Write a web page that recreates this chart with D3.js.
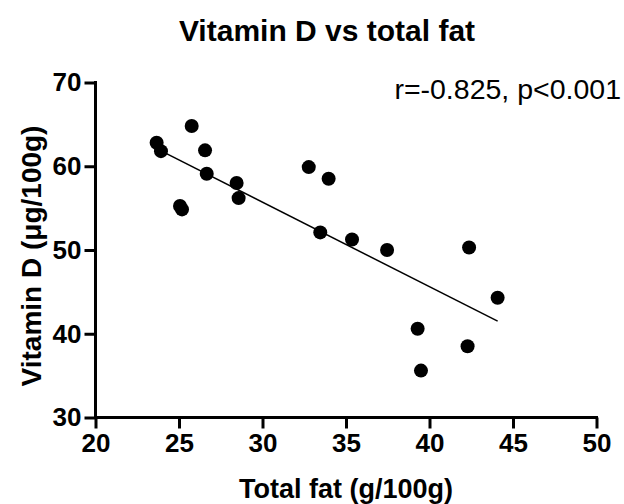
<!DOCTYPE html>
<html>
<head>
<meta charset="utf-8">
<script src="https://cdn.jsdelivr.net/npm/d3@7"></script>
<style>
  body { margin: 0; background: #fff; }
  svg { font-family: "Liberation Sans", Arial, sans-serif; }
</style>
</head>
<body>
<svg class="chart" width="624" height="504"></svg>
<script>
// total fat (g/100g) and vitamin D (ug/100g)
const fat = [23.66, 23.92, 25.76, 26.56, 26.66, 25.06, 25.18, 28.45, 28.57, 32.77,
             33.96, 33.46, 35.36, 37.46, 42.37, 44.08, 39.29, 42.28, 39.49];
const vitD = [62.8, 61.8, 64.8, 61.9, 59.1, 55.25, 54.85, 58.0, 56.2, 59.9,
              58.5, 52.1, 51.25, 50.0, 50.3, 44.3, 40.6, 38.5, 35.6];
const fitX = [23.66, 44.08];
const fitY = [62.1, 41.5];
const xTicks = [20, 25, 30, 35, 40, 45, 50];
const yTicks = [30, 40, 50, 60, 70];

const svg = d3.select('.chart');

const x = d3.scaleLinear().domain([20, 50]).range([95.5, 596.5]);
const y = d3.scaleLinear().domain([30, 70]).range([417.5, 82.5]);

// title
svg.append('text')
  .attr('x', 327).attr('y', 41)
  .attr('text-anchor', 'middle')
  .style('font-size', '30px').style('font-weight', 'bold')
  .text('Vitamin D vs total fat');

// axes
const xAxis = svg.append('g')
  .attr('transform', `translate(0,${y(30)})`)
  .call(d3.axisBottom(x).tickValues(xTicks).tickSize(11).tickSizeOuter(0).tickPadding(5));
const yAxis = svg.append('g')
  .attr('transform', `translate(${x(20)},0)`)
  .call(d3.axisLeft(y).tickValues(yTicks).tickSize(11).tickSizeOuter(0).tickPadding(3));

[xAxis, yAxis].forEach(a => {
  a.select('.domain').attr('stroke', '#000').attr('stroke-width', 3);
  a.selectAll('.tick line').attr('stroke', '#000').attr('stroke-width', 3);
  a.selectAll('.tick text')
    .attr('fill', '#000')
    .style('font-size', '26px').style('font-weight', 'bold')
    .style('font-family', '"Liberation Sans", Arial, sans-serif');
});
// extend domains so the corner closes
xAxis.select('.domain').attr('d', `M${x(20) - 1.5},0H${x(50) + 1.5}`);
yAxis.select('.domain').attr('d', `M0,${y(70) - 1.5}V${y(30) + 1.5}`);

// axis titles
svg.append('text')
  .attr('x', 346).attr('y', 498)
  .attr('text-anchor', 'middle')
  .style('font-size', '27px').style('font-weight', 'bold')
  .text('Total fat (g/100g)');

svg.append('text')
  .attr('transform', `translate(41,${y(50) + 6}) rotate(-90)`)
  .attr('text-anchor', 'middle')
  .style('font-size', '28px').style('font-weight', 'bold')
  .text('Vitamin D (μg/100g)');

// regression line
svg.append('line')
  .attr('x1', x(fitX[0])).attr('y1', y(fitY[0]))
  .attr('x2', x(fitX[1])).attr('y2', y(fitY[1]))
  .attr('stroke', '#000').attr('stroke-width', 1.5);

// points
svg.append('g').selectAll('circle')
  .data(fat.map((f, i) => [f, vitD[i]]))
  .join('circle')
  .attr('cx', d => x(d[0]))
  .attr('cy', d => y(d[1]))
  .attr('r', 7)
  .attr('fill', '#000');

// annotation
svg.append('text')
  .attr('x', 621).attr('y', 99)
  .attr('text-anchor', 'end')
  .style('font-size', '28.5px')
  .text('r=-0.825, p<0.001');
</script>
</body>
</html>
